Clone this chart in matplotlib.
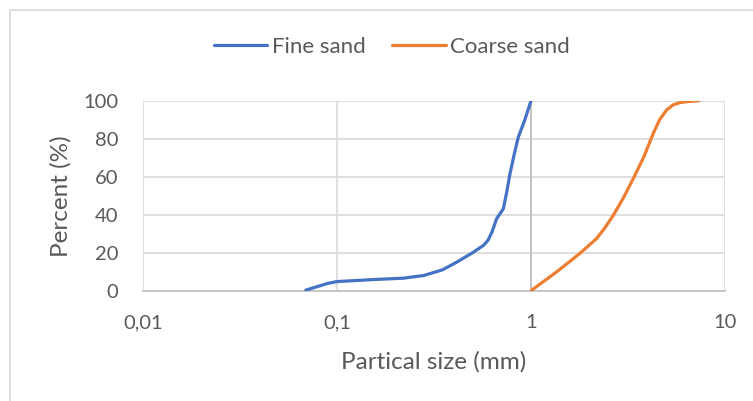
import matplotlib.pyplot as plt
from matplotlib.patches import Rectangle
from matplotlib.ticker import FixedLocator, FixedFormatter, NullLocator

# Datos (tamaño en mm, porcentaje que pasa)
fine_size = [0.069, 0.08, 0.09, 0.1, 0.15, 0.22, 0.28, 0.35, 0.414, 0.5, 0.568, 0.6, 0.63, 0.665, 0.72, 0.75, 0.779, 0.82, 0.86, 0.93, 1.0]
fine_pct = [0.3, 2.3, 3.9, 4.8, 5.8, 6.6, 8.0, 11.0, 15.0, 20.0, 23.8, 26.5, 31.0, 37.9, 43.1, 52.0, 61.5, 72.0, 80.8, 90.0, 100.0]

coarse_size = [1.0, 1.36, 1.79, 2.18, 2.4, 2.66, 3.0, 3.37, 3.8, 4.27, 4.6, 5.0, 5.4, 5.86, 6.5, 7.38]
coarse_pct = [0.0, 10.0, 19.7, 27.5, 33.0, 39.8, 49.0, 59.1, 70.0, 82.8, 90.0, 95.1, 97.8, 99.0, 99.6, 100.0]

x_ticks = [0.01, 0.1, 1, 10]
x_labels = ["0,01", "0,1", "1", "10"]
y_ticks = [0, 20, 40, 60, 80, 100]

txt = "#595959"
plt.rcParams['font.family'] = ['Lato', 'DejaVu Sans']

fig = plt.figure(figsize=(7.53, 4.01), dpi=100)
ax = fig.add_axes([143 / 753, 1 - 290.7 / 401, (725 - 143) / 753, 190 / 401])

# borde del área del gráfico
fig.patches.append(Rectangle((10 / 753, -0.1), 1.2, 1 - 10 / 401 + 0.1, transform=fig.transFigure,
                             fill=False, edgecolor="#d9d9d9", linewidth=1.2))

ax.plot(fine_size, fine_pct, color="#4472C4", linewidth=2.3, label="Fine sand", solid_capstyle="round", zorder=3)
ax.plot(coarse_size, coarse_pct, color="#ED7D31", linewidth=2.3, label="Coarse sand", solid_capstyle="round", zorder=3)

ax.set_xscale("log")
ax.set_xlim(0.01, 10)
ax.set_ylim(0, 100)
ax.xaxis.set_major_locator(FixedLocator(x_ticks))
ax.xaxis.set_major_formatter(FixedFormatter(x_labels))
ax.xaxis.set_minor_locator(NullLocator())
ax.set_yticks(y_ticks)

ax.grid(True, color="#d9d9d9", linewidth=1.2)
ax.axvline(1, color="#bfbfbf", linewidth=1.2, zorder=2)
ax.set_axisbelow(True)
for s in ["top", "right", "left"]:
    ax.spines[s].set_visible(False)
ax.spines["bottom"].set_color("#bfbfbf")
ax.spines["bottom"].set_linewidth(1.2)

ax.tick_params(length=0, labelsize=14.5, colors=txt)
ax.tick_params(axis="x", pad=17)
ax.tick_params(axis="y", pad=18)

ax.set_xlabel("Partical size (mm)", fontsize=17.5, color=txt, labelpad=14)
ax.set_ylabel("Percent (%)", fontsize=17.5, color=txt, labelpad=8)

ax.legend(loc="center", bbox_to_anchor=((392 - 143) / 582, 1 + (290.7 - 47) / 190 - 1), ncol=2, frameon=False,
          fontsize=16, labelcolor=txt, handlelength=2.4, handletextpad=0.2, columnspacing=1.2)

fig.savefig("out.png", dpi=100)
